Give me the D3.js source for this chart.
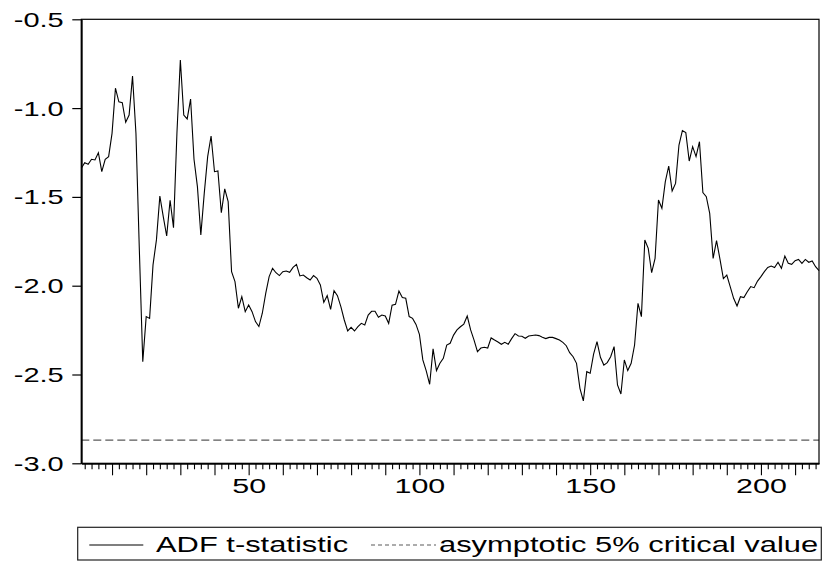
<!DOCTYPE html>
<html>
<head>
<meta charset="utf-8">
<script src="https://cdn.jsdelivr.net/npm/d3@7"></script>
<style>
  html, body { margin: 0; padding: 0; background: #fff; }
  svg { display: block; }
</style>
</head>
<body>
<svg id="chart" width="824" height="565"></svg>
<script>
// Recursive ADF t-statistic, observations 1..217
const adfStat = [
  -1.339, -1.307, -1.316, -1.288, -1.292, -1.251, -1.358, -1.288, -1.273, -1.142,
  -0.888, -0.965, -0.969, -1.080, -1.039, -0.819, -1.142, -1.800, -2.428, -2.174,
  -2.184, -1.883, -1.742, -1.495, -1.611, -1.720, -1.519, -1.673, -1.142, -0.729,
  -1.039, -1.061, -0.949, -1.288, -1.442, -1.714, -1.480, -1.273, -1.157, -1.358,
  -1.354, -1.589, -1.455, -1.527, -1.921, -1.977, -2.127, -2.062, -2.146, -2.108,
  -2.146, -2.202, -2.230, -2.155, -2.043, -1.949, -1.902, -1.927, -1.943, -1.921,
  -1.917, -1.925, -1.897, -1.880, -1.945, -1.940, -1.955, -1.968, -1.943, -1.958,
  -1.996, -2.094, -2.056, -2.133, -2.028, -2.056, -2.118, -2.193, -2.255, -2.234,
  -2.255, -2.231, -2.212, -2.221, -2.165, -2.144, -2.144, -2.178, -2.165, -2.171,
  -2.212, -2.110, -2.105, -2.030, -2.067, -2.071, -2.174, -2.184, -2.218, -2.274,
  -2.418, -2.480, -2.555, -2.356, -2.478, -2.437, -2.409, -2.334, -2.324, -2.278,
  -2.249, -2.231, -2.216, -2.171, -2.249, -2.306, -2.371, -2.351, -2.347, -2.351,
  -2.294, -2.306, -2.317, -2.330, -2.319, -2.330, -2.298, -2.270, -2.283, -2.285,
  -2.296, -2.283, -2.280, -2.278, -2.281, -2.290, -2.298, -2.291, -2.291, -2.298,
  -2.306, -2.319, -2.338, -2.377, -2.400, -2.437, -2.578, -2.649, -2.484, -2.493,
  -2.385, -2.315, -2.403, -2.447, -2.433, -2.400, -2.343, -2.559, -2.610, -2.418,
  -2.478, -2.437, -2.334, -2.099, -2.174, -1.743, -1.790, -1.927, -1.846, -1.517,
  -1.564, -1.414, -1.326, -1.467, -1.424, -1.208, -1.127, -1.138, -1.298, -1.217,
  -1.273, -1.189, -1.476, -1.499, -1.593, -1.846, -1.746, -1.850, -1.960, -1.940,
  -2.005, -2.071, -2.114, -2.062, -2.067, -2.034, -2.005, -2.011, -1.974, -1.949,
  -1.921, -1.897, -1.889, -1.898, -1.868, -1.902, -1.833, -1.874, -1.880, -1.859,
  -1.852, -1.874, -1.852, -1.868, -1.861, -1.893, -1.915
];
const criticalValue = -2.87;

const yTicks = [-3.0, -2.5, -2.0, -1.5, -1.0, -0.5];
const xMajorTicks = d3.range(10, 211, 10);
const xMinorTicks = d3.range(2, 217, 2).filter(d => d % 10 !== 0);
const xLabelTicks = [50, 100, 150, 200];
const legendLabels = ["ADF t-statistic", "asymptotic 5% critical value"];

// layout
const W = 824, H = 565;
const plot = { left: 81.3, top: 19.3, right: 819, bottom: 463.3 };
const stretch = 1.45;          // wide letterforms
const font = "'Liberation Sans', Arial, sans-serif";

const svg = d3.select("#chart");
svg.append("rect").attr("width", W).attr("height", H).attr("fill", "#fff");

const obs = d3.range(1, adfStat.length + 1);
const x = d3.scaleLinear().domain([1, adfStat.length]).range([plot.left, plot.right]);
const y = d3.scaleLinear().domain([-3.0, -0.5]).range([plot.bottom, plot.top]);

// critical value line
svg.append("line")
  .attr("x1", plot.left).attr("x2", plot.right)
  .attr("y1", y(criticalValue)).attr("y2", y(criticalValue))
  .attr("stroke", "#5a5a5a").attr("stroke-width", 1.2)
  .attr("stroke-dasharray", "8,4");

// ADF series
svg.append("path")
  .datum(obs)
  .attr("fill", "none")
  .attr("stroke", "#000")
  .attr("stroke-width", 1.1)
  .attr("stroke-linejoin", "miter")
  .attr("d", d3.line().x(i => x(i)).y(i => y(adfStat[i - 1])));

// frame
svg.append("rect")
  .attr("x", plot.left).attr("y", plot.top)
  .attr("width", plot.right - plot.left).attr("height", plot.bottom - plot.top)
  .attr("fill", "none").attr("stroke", "#000").attr("stroke-width", 1.2);

// y axis
const yAxis = svg.append("g")
  .attr("transform", `translate(${plot.left},0)`)
  .call(d3.axisLeft(y).tickValues(yTicks).tickSize(9).tickSizeOuter(0)
    .tickFormat(d => d.toFixed(1)));
yAxis.select(".domain").attr("stroke", "#000").attr("stroke-width", 1.8);
yAxis.selectAll(".tick line").attr("stroke", "#000").attr("stroke-width", 1.2);
yAxis.selectAll(".tick text")
  .attr("x", -17.6 / stretch)
  .attr("dy", null)
  .attr("y", 7)
  .attr("transform", `scale(${stretch},1)`)
  .attr("font-family", font).attr("font-size", 20)
  .attr("fill", "#000");

// x axis minor ticks
const xMinor = svg.append("g")
  .attr("transform", `translate(0,${plot.bottom})`)
  .call(d3.axisBottom(x).tickValues(xMinorTicks).tickSize(6).tickSizeOuter(0).tickFormat(""));
xMinor.select(".domain").remove();
xMinor.selectAll(".tick line").attr("stroke", "#000").attr("stroke-width", 1.1);

// x axis major ticks and labels
const xAxis = svg.append("g")
  .attr("transform", `translate(0,${plot.bottom})`)
  .call(d3.axisBottom(x).tickValues(xMajorTicks).tickSize(12).tickSizeOuter(0)
    .tickFormat(d => xLabelTicks.includes(d) ? String(d) : ""));
xAxis.select(".domain").attr("stroke", "#000").attr("stroke-width", 1.8);
xAxis.selectAll(".tick line").attr("stroke", "#000").attr("stroke-width", 1.1);
xAxis.selectAll(".tick text")
  .attr("dy", null)
  .attr("y", 29.4)
  .attr("transform", `scale(${stretch},1)`)
  .attr("font-family", font).attr("font-size", 21)
  .attr("fill", "#000");

// legend
const legend = svg.append("g");
legend.append("rect")
  .attr("x", 77.7).attr("y", 527.3).attr("width", 743.6).attr("height", 32.7)
  .attr("fill", "#fff").attr("stroke", "#222").attr("stroke-width", 1.2);
legend.append("line")
  .attr("x1", 89.3).attr("x2", 143.3).attr("y1", 545).attr("y2", 545)
  .attr("stroke", "#000").attr("stroke-width", 1.1);
legend.append("line")
  .attr("x1", 371).attr("x2", 436).attr("y1", 545).attr("y2", 545)
  .attr("stroke", "#5a5a5a").attr("stroke-width", 1.1).attr("stroke-dasharray", "4,3");
[[156, legendLabels[0]], [439, legendLabels[1]]].forEach(([lx, t]) => {
  legend.append("text")
    .attr("transform", `translate(${lx},552.3) scale(${stretch},1)`)
    .attr("font-family", font).attr("font-size", 21.3)
    .attr("fill", "#000")
    .text(t);
});
</script>
</body>
</html>
